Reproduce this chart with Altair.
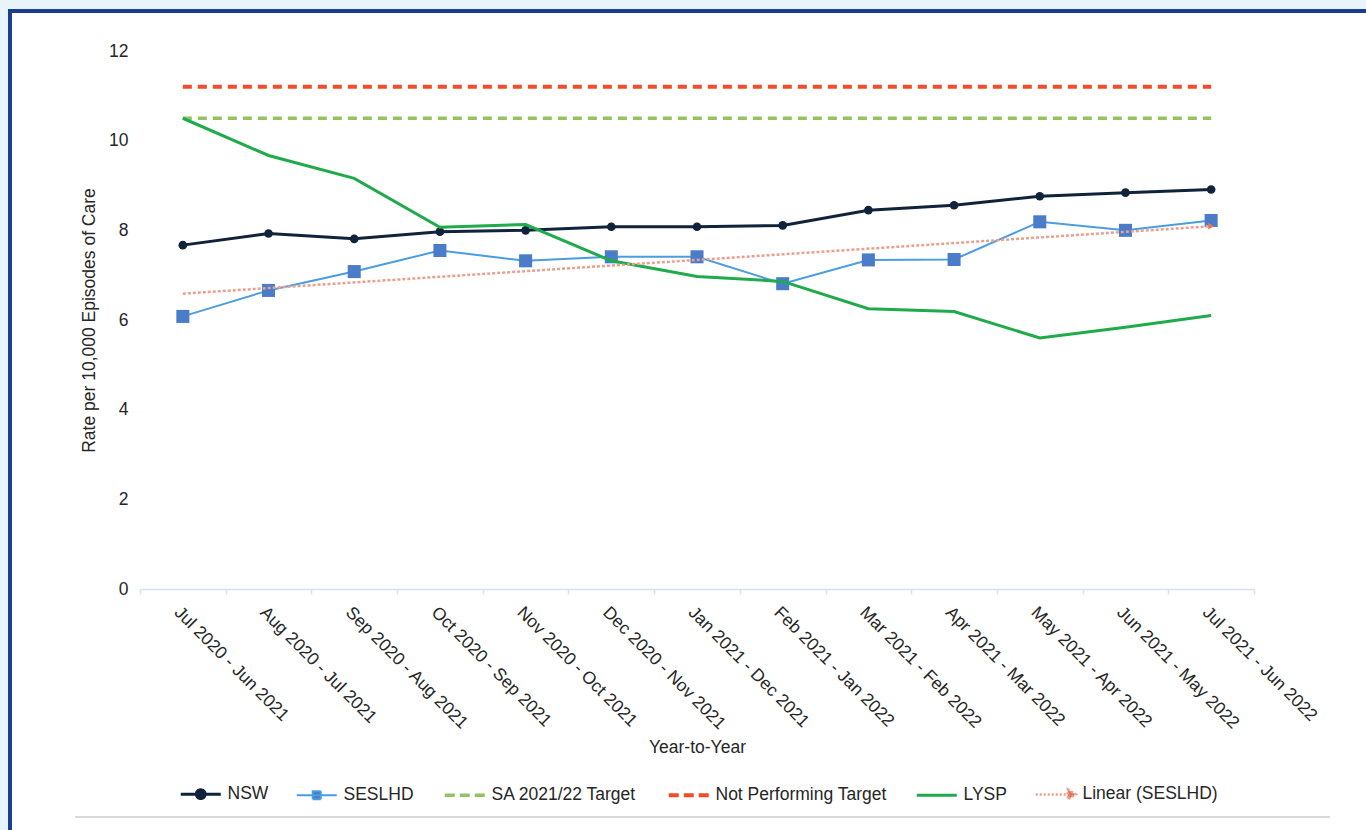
import altair as alt
import pandas as pd

# Rolling 12-month periods shown along the x axis
PERIODS = [
    "Jul 2020 - Jun 2021", "Aug 2020 - Jul 2021", "Sep 2020 - Aug 2021",
    "Oct 2020 - Sep 2021", "Nov 2020 - Oct 2021", "Dec 2020 - Nov 2021",
    "Jan 2021 - Dec 2021", "Feb 2021 - Jan 2022", "Mar 2021 - Feb 2022",
    "Apr 2021 - Mar 2022", "May 2021 - Apr 2022", "Jun 2021 - May 2022",
    "Jul 2021 - Jun 2022",
]
NSW = [7.67, 7.93, 7.81, 7.97, 8.00, 8.08, 8.08, 8.11, 8.45, 8.56, 8.76, 8.84, 8.91]
SESLHD = [6.08, 6.66, 7.08, 7.55, 7.32, 7.41, 7.41, 6.81, 7.34, 7.35, 8.19, 8.00, 8.22]
LYSP = [10.50, 9.67, 9.16, 8.07, 8.13, 7.32, 6.97, 6.86, 6.25, 6.19, 5.60, 5.84, 6.10]
SA_TARGET = 10.5
NOT_PERFORMING = 11.2
Y_TICKS = [0, 2, 4, 6, 8, 10, 12]

SERIES = ["NSW", "SESLHD", "SA 2021/22 Target", "Not Performing Target", "LYSP", "Linear (SESLHD)"]
COLORS = ["#10233a", "#4a9de0", "#93c35e", "#f04e2a", "#1fab4c", "#e9a08e"]

FONT = "Liberation Sans"
TEXT = "#262626"
FS = 17.5

rows = []
for i, period in enumerate(PERIODS):
    for name, vals in (("NSW", NSW), ("SESLHD", SESLHD), ("LYSP", LYSP)):
        rows.append({"idx": i, "period": period, "series": name, "value": vals[i]})
    rows.append({"idx": i, "period": period, "series": "SA 2021/22 Target", "value": SA_TARGET})
    rows.append({"idx": i, "period": period, "series": "Not Performing Target", "value": NOT_PERFORMING})
df = pd.DataFrame(rows)

label_list = "[" + ",".join("'" + p + "'" for p in PERIODS) + "]"

x_scale = alt.Scale(domain=[-0.5, len(PERIODS) - 0.5], nice=False, zero=False)
y_scale = alt.Scale(domain=[0, 12], nice=False)

x_main = alt.X(
    "idx:Q", scale=x_scale,
    axis=alt.Axis(
        values=list(range(len(PERIODS))), labelExpr=label_list + "[datum.value]",
        labelAngle=45, labelAlign="left", labelBaseline="top", labelPadding=14,
        labelFont=FONT, labelFontSize=FS, labelColor=TEXT, labelOverlap=False,
        ticks=False, grid=False, domain=True, domainColor="#d7e3ee", domainWidth=1.5,
        title="Year-to-Year", titleFont=FONT, titleFontSize=FS, titleFontWeight="normal",
        titleColor=TEXT, titlePadding=6, orient="bottom", zindex=1,
    ),
)
x_ticks = alt.X(
    "idx:Q", scale=x_scale,
    axis=alt.Axis(
        values=[i - 0.5 for i in range(len(PERIODS) + 1)], labels=False, domain=False,
        ticks=True, tickSize=5, tickColor="#d7e3ee", tickWidth=1.5, grid=False,
        title=None, orient="bottom", zindex=1,
    ),
)
x_plain = alt.X("idx:Q", scale=x_scale, axis=None)
y_enc = alt.Y(
    "value:Q", scale=y_scale,
    axis=alt.Axis(
        values=Y_TICKS, domain=False, ticks=False, grid=False, labelPadding=12,
        labelFont=FONT, labelFontSize=FS, labelColor=TEXT,
        title="Rate per 10,000 Episodes of Care", titleFont=FONT, titleFontSize=FS,
        titleFontWeight="normal", titleColor=TEXT, titlePadding=10, zindex=1,
    ),
)


def pick(mapping, default):
    expr = default
    for key, val in reversed(list(mapping.items())):
        expr = f"datum.value === '{key}' ? {val} : ({expr})"
    return expr


# legend glyphs: line segment plus the series marker, drawn as custom paths
shapes = {
    "NSW": "'M-1,0H1M0.22,0A0.22,0.22 0 1,1 -0.22,0A0.22,0.22 0 1,1 0.22,0Z'",
    "SESLHD": "'M-1,0H1M-0.2,-0.2H0.2V0.2H-0.2Z'",
    "SA 2021/22 Target": "'M-1,0H-0.5M-0.25,0H0.25M0.5,0H1'",
    "Not Performing Target": "'M-1,0H-0.5M-0.25,0H0.25M0.5,0H1'",
    "LYSP": "'M-1,0H1'",
}
fills = {"NSW": "'#10233a'", "SESLHD": "'#4a7cc9'", "Linear (SESLHD)": "'#e0785c'"}
widths = {"NSW": 3, "SESLHD": 2, "SA 2021/22 Target": 3.5, "Not Performing Target": 4, "LYSP": 3}

legend = alt.Legend(
    title=None, orient="none", legendX=42, legendY=734, direction="horizontal",
    columns=6, symbolSize=1600, labelFont=FONT, labelFontSize=FS, labelColor=TEXT,
    labelLimit=400, symbolOffset=10, labelOffset=18, columnPadding=23, symbolOpacity=1,
    symbolType=alt.ExprRef(pick(shapes, "'M-1,0H0.6M0.6,-0.25L1,0L0.6,0.25Z'")),
    symbolFillColor=alt.ExprRef(pick(fills, "'transparent'")),
    symbolStrokeWidth=alt.ExprRef(pick(widths, "2.5")),
    symbolDash=alt.ExprRef("datum.value === 'Linear (SESLHD)' ? [2, 2] : [1, 0]"),
)
color_enc = alt.Color("series:N", scale=alt.Scale(domain=SERIES, range=COLORS), legend=legend)

base = alt.Chart(df)

# white panel with the dark blue frame, and the grey rule under the legend
frame = alt.Chart(pd.DataFrame({"k": [0]})).mark_rect(
    fill="white", stroke="#1b3f8f", strokeWidth=4
).encode(x=alt.value(-130), x2=alt.value(1240), y=alt.value(-40), y2=alt.value(800))
footer = alt.Chart(pd.DataFrame({"k": [0]})).mark_rule(
    color="#d9d9d9", strokeWidth=2
).encode(x=alt.value(-65), x2=alt.value(1190), y=alt.value(766))

nsw_line = base.transform_filter(alt.datum.series == "NSW").mark_line(strokeWidth=3).encode(
    x=x_main, y=y_enc, color=color_enc
)
nsw_pts = base.transform_filter(alt.datum.series == "NSW").mark_point(
    filled=True, shape="circle", size=75, opacity=1
).encode(x=x_plain, y="value:Q", color=alt.value("#10233a"))

ses_line = base.transform_filter(alt.datum.series == "SESLHD").mark_line(strokeWidth=2).encode(
    x=x_ticks, y="value:Q", color=color_enc
)
ses_pts = base.transform_filter(alt.datum.series == "SESLHD").mark_point(
    filled=True, shape="square", size=170, opacity=1
).encode(x=x_plain, y="value:Q", color=alt.value("#4a7cc9"))

sa_line = base.transform_filter(alt.datum.series == "SA 2021/22 Target").mark_line(
    strokeWidth=3.5, strokeDash=[9, 6]
).encode(x=x_plain, y="value:Q", color=color_enc)
np_line = base.transform_filter(alt.datum.series == "Not Performing Target").mark_line(
    strokeWidth=4, strokeDash=[9, 6]
).encode(x=x_plain, y="value:Q", color=color_enc)
lysp_line = base.transform_filter(alt.datum.series == "LYSP").mark_line(strokeWidth=3).encode(
    x=x_plain, y="value:Q", color=color_enc
)

trend = base.transform_filter(alt.datum.series == "SESLHD").transform_regression(
    "idx", "value", extent=[0, len(PERIODS) - 1]
).transform_calculate(series="'Linear (SESLHD)'")
trend_line = trend.mark_line(strokeWidth=2.5, strokeDash=[3, 2]).encode(
    x=x_plain, y="value:Q", color=color_enc
)
trend_head = trend.transform_filter(alt.datum.idx >= len(PERIODS) - 1.1).mark_point(
    filled=True, shape="triangle-right", size=45, opacity=1
).encode(x=x_plain, y="value:Q", color=alt.value("#e0785c"))

chart = alt.layer(
    frame, footer,
    nsw_line, nsw_pts, ses_line, ses_pts, sa_line, np_line, lysp_line, trend_line, trend_head,
).resolve_axis(x="independent").properties(
    width=1114, height=538,
    padding={"left": 140, "top": 51, "right": 112, "bottom": 241},
    autosize=alt.AutoSizeParams(type="none"),
    background="#e9f3fa",
).configure_view(stroke=None)

chart.save("out.html", embed_options={"renderer": "svg", "actions": False})
